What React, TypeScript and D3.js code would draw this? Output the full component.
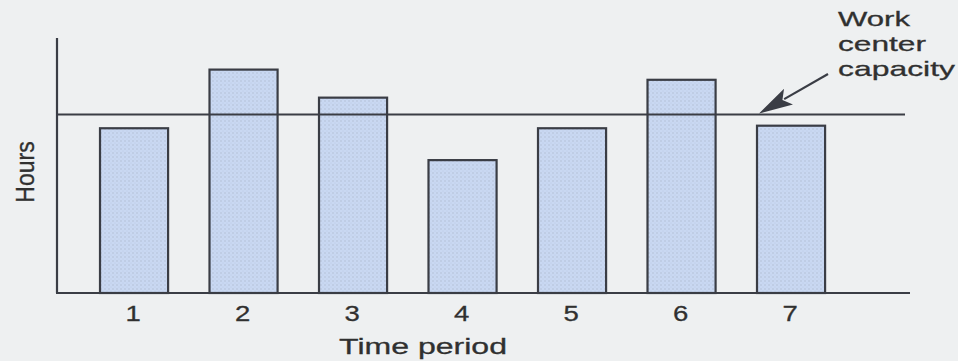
import React from "react";
import * as d3 from "d3";

const periods = ["1", "2", "3", "4", "5", "6", "7"];
const hours = [65, 88, 77, 52.5, 65, 84, 66];
const capacity = 70;
const xTitle = "Time period";
const yTitle = "Hours";
const annotationLines = ["Work", "center", "capacity"];

const W = 958;
const H = 361;

export default function App() {
  const x = d3
    .scaleBand<string>()
    .domain(periods)
    .range([79.3, 845.8])
    .paddingInner(0.36)
    .paddingOuter(0.18);
  const y = d3.scaleLinear().domain([0, 100]).range([293, 38]);

  const axisX = 57;
  const ink = "#3a3d45";
  const textColor = "#303030";
  const font = "'Liberation Sans', Arial, Helvetica, sans-serif";
  const capY = y(capacity);

  const arrowStart = [828, 74];
  const arrowTip = [759, capY - 1];
  const ang = Math.atan2(arrowTip[1] - arrowStart[1], arrowTip[0] - arrowStart[0]);
  const headLen = 34;
  const headW = 9;
  const bx = arrowTip[0] - headLen * Math.cos(ang);
  const by = arrowTip[1] - headLen * Math.sin(ang);
  const px = -Math.sin(ang);
  const py = Math.cos(ang);
  const head = `M${arrowTip[0]},${arrowTip[1]} L${bx + px * headW},${by + py * headW} L${bx + 7 * Math.cos(ang)},${by + 7 * Math.sin(ang)} L${bx - px * headW},${by - py * headW} Z`;

  const annoWidths = [72, 88, 117];

  return (
    <svg
      width={W}
      height={H}
      style={{ position: "absolute", left: 0, top: 0, display: "block" }}
    >
      <defs>
        <pattern id="dots" width="4" height="4" patternUnits="userSpaceOnUse">
          <rect width="4" height="4" fill="#c9d8f2" />
          <circle cx="1" cy="1" r="0.8" fill="#b3c0d6" />
          <circle cx="3" cy="3" r="0.6" fill="#bccbe6" />
        </pattern>
      </defs>
      <rect x={0} y={0} width={W} height={H} fill="#eef0f1" />

      {/* bars */}
      {periods.map((p, i) => (
        <rect
          key={p}
          x={(x(p) as number) + 1}
          y={y(hours[i]) + 1}
          width={x.bandwidth() - 2}
          height={y(0) - y(hours[i]) - 1}
          fill="url(#dots)"
          stroke={ink}
          strokeWidth={2.2}
        />
      ))}

      {/* axes */}
      <line x1={axisX} y1={y(100)} x2={axisX} y2={y(0)} stroke={ink} strokeWidth={2.2} />
      <line x1={axisX - 1} y1={y(0)} x2={910} y2={y(0)} stroke={ink} strokeWidth={2.2} />

      {/* capacity line */}
      <line x1={axisX} y1={capY} x2={905} y2={capY} stroke={ink} strokeWidth={2} />

      {/* arrow */}
      <line
        x1={arrowStart[0]}
        y1={arrowStart[1]}
        x2={bx + 5 * Math.cos(ang)}
        y2={by + 5 * Math.sin(ang)}
        stroke={ink}
        strokeWidth={2.2}
      />
      <path d={head} fill={ink} />

      {/* tick labels */}
      {periods.map((p) => {
        const cx = (x(p) as number) + x.bandwidth() / 2;
        return (
          <text
            key={"t" + p}
            transform={`translate(${cx - 1},321) scale(1.25,1)`}
            textAnchor="middle"
            fontFamily={font}
            fontSize={22}
            fill={textColor}
            stroke={textColor}
            strokeWidth={0.3}
          >
            {p}
          </text>
        );
      })}

      {/* x title */}
      <text
        x={339}
        y={354}
        textLength={168}
        lengthAdjust="spacingAndGlyphs"
        fontFamily={font}
        fontSize={22}
        fill={textColor}
        stroke={textColor}
        strokeWidth={0.3}
      >
        {xTitle}
      </text>

      {/* y title */}
      <text
        transform={`translate(34,172) scale(1.15,1) rotate(-90)`}
        textAnchor="middle"
        fontFamily={font}
        fontSize={23}
        fill={textColor}
        stroke={textColor}
        strokeWidth={0.3}
      >
        {yTitle}
      </text>

      {/* annotation */}
      {annotationLines.map((t, i) => (
        <text
          key={t}
          x={838}
          y={26 + i * 25}
          textLength={annoWidths[i]}
          lengthAdjust="spacingAndGlyphs"
          fontFamily={font}
          fontSize={21}
          fill={textColor}
          stroke={textColor}
          strokeWidth={0.3}
        >
          {t}
        </text>
      ))}
    </svg>
  );
}
